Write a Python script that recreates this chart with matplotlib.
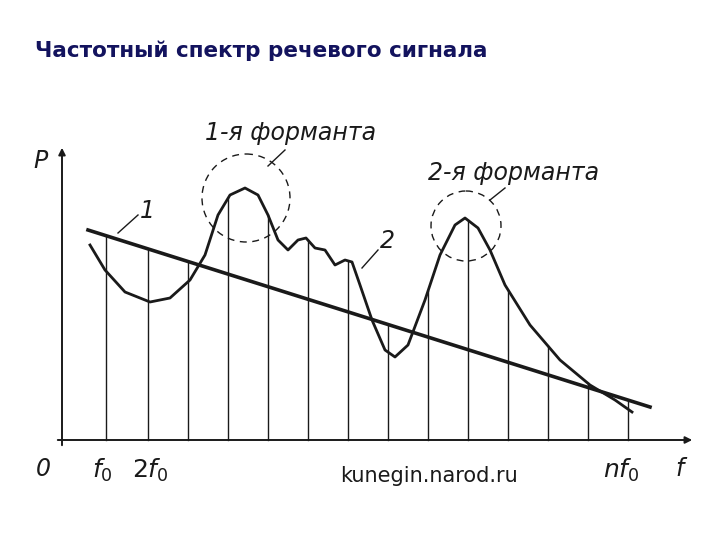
import matplotlib
matplotlib.use("Agg")
import matplotlib.pyplot as plt
from matplotlib.patches import Circle

# Spectrum envelope (curve 2) in pixel units
curve_x = [90, 105, 125, 150, 170, 190, 205, 218, 230, 245, 258, 268, 278, 288, 298,
           306, 315, 325, 335, 345, 352, 360, 372, 385, 395, 408, 425, 440, 455, 465,
           478, 490, 505, 530, 560, 590, 615, 632]
curve_y = [245, 270, 292, 302, 298, 280, 255, 215, 195, 188, 195, 215, 240, 250, 240,
           238, 248, 250, 265, 260, 262, 285, 320, 350, 357, 345, 300, 255, 225, 218,
           228, 250, 285, 325, 360, 385, 400, 412]
# Straight line 1
line_x = [88, 650]
line_y = [230, 407]
# Harmonic positions
harm_x = [106, 148, 188, 228, 268, 308, 348, 388, 428, 468, 508, 548, 588, 628]
axis_y = 440

fig = plt.figure(figsize=(7.2, 5.4), dpi=100)
ax = fig.add_axes([0, 0, 1, 1])
ax.set_xlim(0, 720)
ax.set_ylim(540, 0)
ax.axis("off")

ink = "#1a1a1a"


def line_at(x):
    return line_y[0] + (line_y[1] - line_y[0]) * (x - line_x[0]) / (line_x[1] - line_x[0])


def curve_at(x):
    for i in range(len(curve_x) - 1):
        if curve_x[i] <= x <= curve_x[i + 1]:
            t = (x - curve_x[i]) / (curve_x[i + 1] - curve_x[i])
            return curve_y[i] + t * (curve_y[i + 1] - curve_y[i])
    return line_at(x)


for hx in harm_x:
    top = min(line_at(hx), curve_at(hx))
    ax.plot([hx, hx], [axis_y, top], color=ink, lw=1.0)

ax.plot(curve_x, curve_y, color=ink, lw=2.0, solid_joinstyle="round")
ax.plot(line_x, line_y, color=ink, lw=2.6)

# axes with arrows
ax.annotate("", xy=(695, axis_y), xytext=(55, axis_y),
            arrowprops=dict(arrowstyle="-|>", color=ink, lw=1.4))
ax.annotate("", xy=(62, 145), xytext=(62, 448),
            arrowprops=dict(arrowstyle="-|>", color=ink, lw=1.4))

ax.add_patch(Circle((246, 198), 44, fill=False, ls=(0, (5, 4)), lw=1.0, color=ink))
ax.add_patch(Circle((466, 226), 35, fill=False, ls=(0, (5, 4)), lw=1.0, color=ink))

kw = dict(color=ink, style="italic", fontsize=17, family="DejaVu Sans")
ax.text(33, 168, "P", **kw)
ax.text(205, 140, "1-я форманта", **kw)
ax.text(428, 180, "2-я форманта", **kw)
ax.text(140, 218, "1", **kw)
ax.text(380, 248, "2", **kw)
ax.text(36, 476, "0", **kw)
ax.text(92, 478, "$f_0$", color=ink, fontsize=18)
ax.text(132, 478, "$2f_0$", color=ink, fontsize=18)
ax.text(603, 478, "$nf_0$", color=ink, fontsize=18)
ax.text(675, 476, "f", **kw)
ax.text(340, 482, "kunegin.narod.ru", color=ink, fontsize=15)

ax.plot([285, 268], [150, 166], color=ink, lw=1)
ax.plot([505, 490], [188, 200], color=ink, lw=1)
ax.plot([138, 118], [215, 233], color=ink, lw=1)
ax.plot([378, 362], [250, 268], color=ink, lw=1)

ax.text(35, 57, "Частотный спектр речевого сигнала", color="#13135e",
        fontsize=15.5, fontweight="bold", family="DejaVu Sans")

fig.savefig("out.png", dpi=100)
